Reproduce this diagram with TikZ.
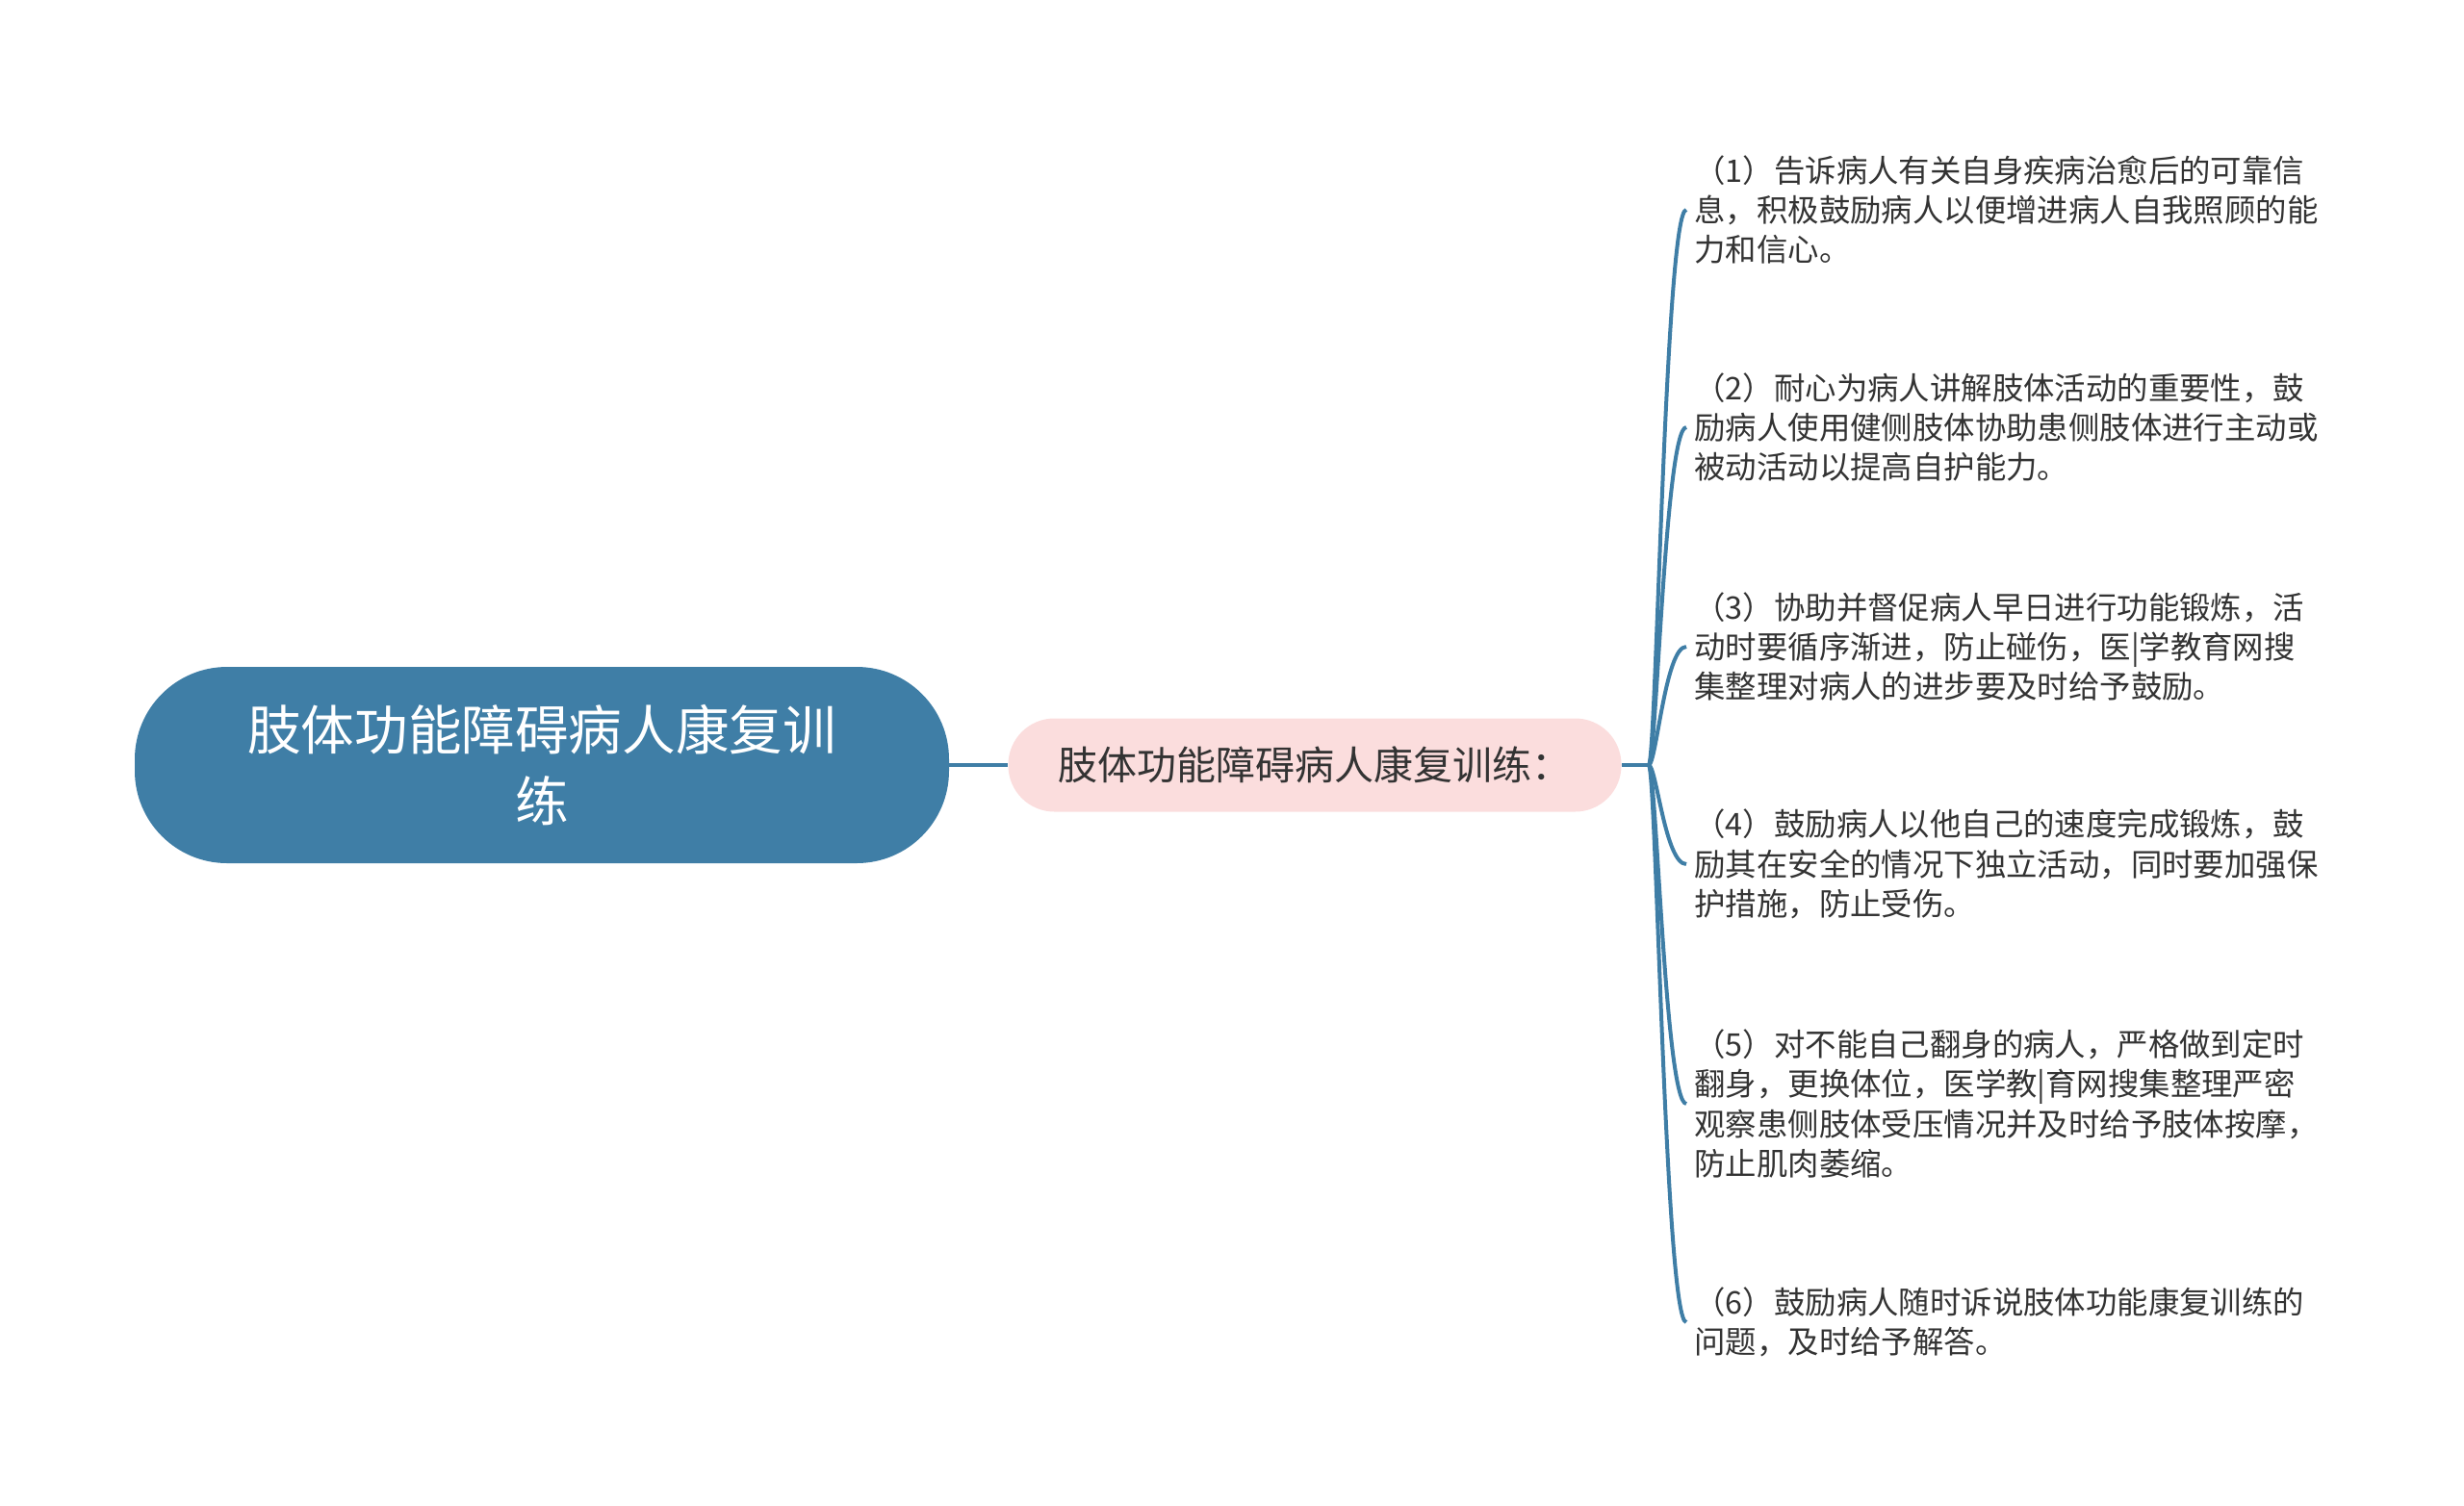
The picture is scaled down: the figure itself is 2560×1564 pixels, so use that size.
\documentclass[tikz,border=0pt]{standalone}
\usepackage{fontspec}
\usepackage{tikz}
\usetikzlibrary{positioning}
\setmainfont{Noto Sans CJK SC}
\definecolor{mapblue}{RGB}{63,126,166}
\definecolor{subpink}{RGB}{251,221,221}
\definecolor{leaftext}{RGB}{51,51,51}

\begin{document}
\begin{tikzpicture}[x=0.5pt,y=-0.5pt,
    rootnode/.style={fill=mapblue, rounded corners=48pt, minimum width=423pt, minimum height=102pt,
      text=white, align=center, font=\fontsize{27.8}{37}\selectfont},
    subnode/.style={fill=subpink, rounded corners=24pt, minimum width=318.5pt, minimum height=48.5pt,
      text=leaftext, font=\fontsize{20.5}{24}\selectfont},
    leafnode/.style={anchor=west, align=left, inner sep=4pt, text=leaftext,
      font=\fontsize{16.2}{20.6}\selectfont},
    branch/.style={draw=mapblue, line width=2pt}]
    \useasboundingbox (0,0) rectangle (2560,1564);
    \node[rootnode] (root) at (563,795) {肢体功能障碍病人康复训\\练};
    \node[subnode] (sub) at (1366,795) {肢体功能障碍病人康复训练：};
    \coordinate[right=14pt of sub.east] (fork);
    \node[leafnode] (leaf1) at (1752,218) {（1）告诉病人有关自身疾病治愈后的可靠信\\息，积极鼓励病人以便增进病人自我照顾的能\\力和信心。};
    \node[leafnode] (leaf2) at (1752,444) {（2）耐心为病人讲解肢体活动的重要性，鼓\\励病人使用健侧肢体协助患侧肢体进行主动或\\被动活动以提高自护能力。};
    \node[leafnode] (leaf3) at (1752,672) {（3）协助并督促病人早日进行功能锻炼，活\\动时要循序渐进，防止碰伤，医|学教育网搜\\集整理对病人的进步要及时给予鼓励。};
    \node[leafnode] (leaf4) at (1752,898) {（4）鼓励病人以他自己的速度完成锻炼，鼓\\励其在安全的情况下独立活动，同时要加强保\\护措施，防止受伤。};
    \node[leafnode] (leaf5) at (1752,1147) {（5）对不能自己翻身的病人，严格做到定时\\翻身，更换体位，医学教|育网搜集整理严密\\观察患侧肢体受压情况并及时给予肢体按摩，\\防止肌肉萎缩。};
    \node[leafnode] (leaf6) at (1752,1374) {（6）鼓励病人随时诉说肢体功能康复训练的\\问题，及时给予解答。};
    \draw[branch] (root) -- (sub);
    \draw[branch] (sub) -- (fork);
    \foreach \i in {1,...,6}
      \draw[branch] (fork) .. controls +(8,0) and +(-22,0) .. (leaf\i.west);
\end{tikzpicture}
\end{document}
